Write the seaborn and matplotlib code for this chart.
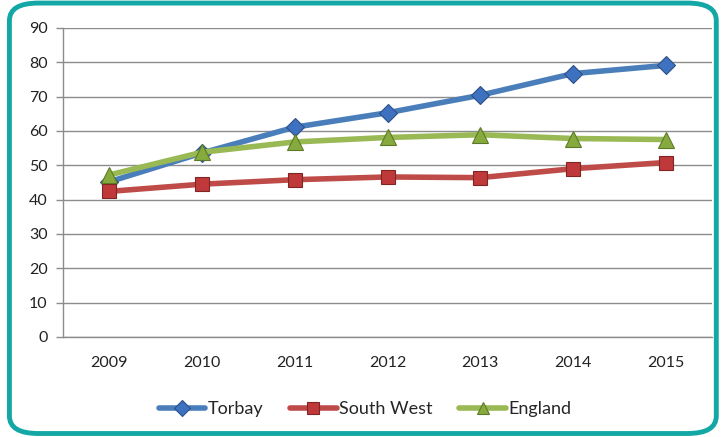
import numpy as np
import pandas as pd
import matplotlib
matplotlib.use("Agg")
import matplotlib.pyplot as plt
from matplotlib.patches import FancyBboxPatch
import seaborn as sns

years = ["2009", "2010", "2011", "2012", "2013", "2014", "2015"]
torbay = [45.2, 53.6, 61.1, 65.3, 70.4, 76.7, 79.1]
south_west = [42.4, 44.5, 45.8, 46.6, 46.4, 49.0, 50.8]
england = [47.2, 53.8, 56.8, 58.1, 58.9, 57.8, 57.5]

series_names = ["Torbay", "South West", "England"]
line_colors = ["#4A7EBB", "#BE4B48", "#98B954"]
face_colors = ["#3E72C0", "#C0393A", "#86AA3E"]
edge_colors = ["#2B5187", "#7F2624", "#5C7A25"]
marker_shapes = ["D", "s", "^"]
marker_sizes = [9, 10, 11]

df = pd.DataFrame({
    "year": years * 3,
    "value": torbay + south_west + england,
    "series": np.repeat(series_names, len(years)),
})

sns.set_style("white")
plt.rcParams["font.family"] = ["Lato", "DejaVu Sans"]

fig = plt.figure(figsize=(7.25, 4.37), dpi=100)
ax = fig.add_axes([0.087, 0.229, 0.895, 0.707])

for name, lc, fc, ec, mk, ms in zip(series_names, line_colors, face_colors,
                                    edge_colors, marker_shapes, marker_sizes):
    sub = df[df["series"] == name]
    sns.lineplot(data=sub, x="year", y="value", ax=ax, color=lc, linewidth=4,
                 marker=mk, markersize=ms, markerfacecolor=fc,
                 markeredgecolor=ec, markeredgewidth=0.8, label=name,
                 sort=False)

ax.set_xlim(-0.5, len(years) - 0.5)
ax.set_ylim(0, 90)
ax.set_yticks(range(0, 91, 10))
ax.set_xlabel("")
ax.set_ylabel("")
ax.yaxis.grid(True, color="#8C8C8C", linewidth=1)
ax.set_axisbelow(True)

# category ticks sit between the years
ax.set_xticks(np.arange(-0.5, len(years), 1.0), minor=True)
ax.tick_params(axis="x", which="major", length=0, pad=14, labelsize=11.5,
               labelcolor="#222222")
ax.tick_params(axis="x", which="minor", length=6, color="#8C8C8C", width=1)
ax.tick_params(axis="y", length=5, color="#8C8C8C", width=1, labelsize=11.5,
               labelcolor="#222222", left=True, pad=6)
for side in ["top", "right"]:
    ax.spines[side].set_visible(False)
for side in ["left", "bottom"]:
    ax.spines[side].set_color("#8C8C8C")
    ax.spines[side].set_linewidth(1)

ax.legend(loc="upper center", bbox_to_anchor=(0.465, -0.155), ncol=3,
          frameon=False, fontsize=13, handlelength=2.6, handletextpad=0.1,
          columnspacing=1.5, markerscale=0.85)

frame = FancyBboxPatch((0.013, 0.008), 0.975, 0.985,
                       boxstyle="round,pad=0,rounding_size=0.04",
                       transform=fig.transFigure, fill=False,
                       edgecolor="#13A8A6", linewidth=3.5, clip_on=False)
fig.patches.append(frame)

fig.savefig("out.png", dpi=100)
